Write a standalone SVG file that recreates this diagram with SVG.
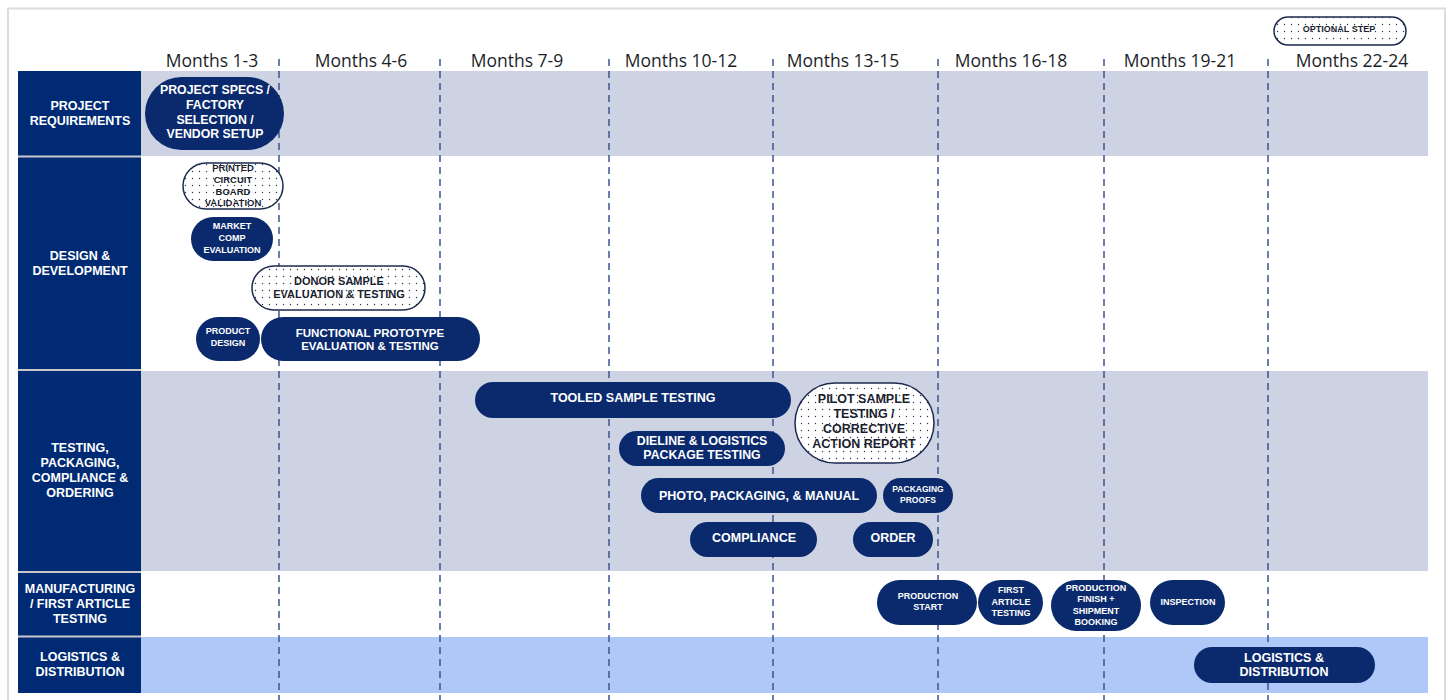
<svg xmlns="http://www.w3.org/2000/svg" width="1452" height="700" viewBox="0 0 1452 700">
<defs>
<pattern id="dots" width="7" height="7" patternUnits="userSpaceOnUse">
<rect width="7" height="7" fill="#ffffff"/>
<circle cx="3.5" cy="3.5" r="0.7" fill="#2a3550"/>
</pattern>
<style>
.hdr{font-family:"Open Sans","Liberation Sans",sans-serif;font-size:17.5px;fill:#1c1f2a;text-anchor:middle}
.rl{font-family:"Liberation Sans",Arial,sans-serif;font-weight:bold;font-size:12.5px;fill:#ffffff;text-anchor:middle;dominant-baseline:central}
.lab{fill:#002a73}
.n{fill:#0b2a6e}
.o{fill:url(#dots);stroke:#1b2a4e;stroke-width:1.5}
.t{font-family:"Liberation Sans",Arial,sans-serif;font-weight:bold;fill:#ffffff;text-anchor:middle;dominant-baseline:central}
.d{font-family:"Liberation Sans",Arial,sans-serif;font-weight:bold;fill:#1c1f30;text-anchor:middle;dominant-baseline:central}
.dash{stroke:#3d5490;stroke-width:1.5;stroke-dasharray:7 5;fill:none}
.sep{stroke:#c8c8c8;stroke-width:2}
</style>
</defs>
<rect x="0" y="0" width="1452" height="700" fill="#ffffff"/>
<rect x="8" y="8.5" width="1437" height="700" fill="none" stroke="#dcdcdc" stroke-width="2"/>

<g id="bands">
<rect x="141" y="71" width="1287" height="85" fill="#cdd3e2"/>
<rect x="141" y="371" width="1287" height="200" fill="#cdd3e2"/>
<rect x="141" y="637" width="1287" height="56" fill="#b0c8f8"/>
</g>

<g id="row-labels">
<rect class="lab" x="18" y="71" width="123" height="85"/>
<rect class="lab" x="18" y="157" width="123" height="212"/>
<rect class="lab" x="18" y="371" width="123" height="200"/>
<rect class="lab" x="18" y="573" width="123" height="63"/>
<rect class="lab" x="18" y="637" width="123" height="56"/>
<line class="sep" x1="18" y1="156.5" x2="141" y2="156.5"/>
<line class="sep" x1="18" y1="370" x2="141" y2="370"/>
<line class="sep" x1="18" y1="572" x2="141" y2="572"/>
<line class="sep" x1="18" y1="636.5" x2="141" y2="636.5"/>
<text class="rl" x="80" y="106">PROJECT</text>
<text class="rl" x="80" y="121">REQUIREMENTS</text>
<text class="rl" x="80" y="256">DESIGN &amp;</text>
<text class="rl" x="80" y="271">DEVELOPMENT</text>
<text class="rl" x="80" y="448">TESTING,</text>
<text class="rl" x="80" y="463">PACKAGING,</text>
<text class="rl" x="80" y="478">COMPLIANCE &amp;</text>
<text class="rl" x="80" y="493">ORDERING</text>
<text class="rl" x="80" y="589">MANUFACTURING</text>
<text class="rl" x="80" y="604">/ FIRST ARTICLE</text>
<text class="rl" x="80" y="619">TESTING</text>
<text class="rl" x="80" y="657">LOGISTICS &amp;</text>
<text class="rl" x="80" y="672">DISTRIBUTION</text>
</g>

<g id="headers">
<text class="hdr" x="212" y="67">Months 1-3</text>
<text class="hdr" x="361" y="67">Months 4-6</text>
<text class="hdr" x="517" y="67">Months 7-9</text>
<text class="hdr" x="681" y="67">Months 10-12</text>
<text class="hdr" x="843" y="67">Months 13-15</text>
<text class="hdr" x="1011" y="67">Months 16-18</text>
<text class="hdr" x="1180" y="67">Months 19-21</text>
<text class="hdr" x="1352" y="67">Months 22-24</text>
</g>

<g id="gridlines">
<line class="dash" x1="279" y1="59" x2="279" y2="700"/>
<line class="dash" x1="440" y1="59" x2="440" y2="700"/>
<line class="dash" x1="609" y1="59" x2="609" y2="700"/>
<line class="dash" x1="773" y1="59" x2="773" y2="700"/>
<line class="dash" x1="938" y1="59" x2="938" y2="700"/>
<line class="dash" x1="1104" y1="59" x2="1104" y2="700"/>
<line class="dash" x1="1268" y1="59" x2="1268" y2="700"/>
</g>

<g id="legend-optional">
<rect class="o" x="1274" y="17" width="132" height="28" rx="14"/>
<text class="d" x="1339" y="29" font-size="9">OPTIONAL STEP</text>
</g>

<g id="project-specs">
<rect class="n" x="145" y="77" width="139" height="73" rx="36.5"/>
<text class="t" font-size="12.3" x="215" y="90">PROJECT SPECS /</text>
<text class="t" font-size="12.3" x="215" y="105">FACTORY</text>
<text class="t" font-size="12.3" x="215" y="119.5">SELECTION /</text>
<text class="t" font-size="12.3" x="215" y="134">VENDOR SETUP</text>
</g>

<g id="pcb-validation">
<rect class="o" x="183" y="163" width="100" height="46" rx="23"/>
<text class="d" font-size="9.5" x="233" y="167.5">PRINTED</text>
<text class="d" font-size="9.5" x="233" y="179">CIRCUIT</text>
<text class="d" font-size="9.5" x="233" y="191">BOARD</text>
<text class="d" font-size="9.5" x="233" y="202">VALIDATION</text>
</g>

<g id="market-comp">
<rect class="n" x="191" y="217" width="82" height="44" rx="22"/>
<text class="t" font-size="9" x="232" y="226">MARKET</text>
<text class="t" font-size="9" x="232" y="238">COMP</text>
<text class="t" font-size="9" x="232" y="249.5">EVALUATION</text>
</g>

<g id="donor-sample">
<rect class="o" x="252" y="266" width="173" height="44" rx="22"/>
<text class="d" font-size="11" x="339" y="281">DONOR SAMPLE</text>
<text class="d" font-size="11" x="339" y="294">EVALUATION &amp; TESTING</text>
</g>

<g id="product-design">
<rect class="n" x="196" y="317" width="64" height="44" rx="22"/>
<text class="t" font-size="9" x="228" y="331">PRODUCT</text>
<text class="t" font-size="9" x="228" y="343">DESIGN</text>
</g>

<g id="functional-prototype">
<rect class="n" x="261" y="317" width="219" height="44" rx="22"/>
<text class="t" font-size="11.5" x="370" y="333">FUNCTIONAL PROTOTYPE</text>
<text class="t" font-size="11.5" x="370" y="346">EVALUATION &amp; TESTING</text>
</g>

<g id="tooled-sample">
<rect class="n" x="475" y="382" width="316" height="36" rx="18"/>
<text class="t" font-size="12.5" x="633" y="398">TOOLED SAMPLE TESTING</text>
</g>

<g id="pilot-sample">
<rect class="o" x="795" y="383" width="139" height="80" rx="40"/>
<text class="d" font-size="12.5" x="864" y="399">PILOT SAMPLE</text>
<text class="d" font-size="12.5" x="864" y="414">TESTING /</text>
<text class="d" font-size="12.5" x="864" y="429">CORRECTIVE</text>
<text class="d" font-size="12.5" x="864" y="444">ACTION REPORT</text>
</g>

<g id="dieline">
<rect class="n" x="619" y="431" width="166" height="35" rx="17.5"/>
<text class="t" font-size="12.3" x="702" y="440.5">DIELINE &amp; LOGISTICS</text>
<text class="t" font-size="12.3" x="702" y="455">PACKAGE TESTING</text>
</g>

<g id="photo-packaging">
<rect class="n" x="641" y="478" width="236" height="35" rx="17.5"/>
<text class="t" font-size="12.5" x="759" y="495.5">PHOTO, PACKAGING, &amp; MANUAL</text>
</g>

<g id="packaging-proofs">
<rect class="n" x="883" y="478" width="70" height="35" rx="17.5"/>
<text class="t" font-size="8.5" x="918" y="488.5">PACKAGING</text>
<text class="t" font-size="8.5" x="918" y="499.5">PROOFS</text>
</g>

<g id="compliance">
<rect class="n" x="690" y="522" width="127" height="35" rx="17.5"/>
<text class="t" font-size="12.5" x="754" y="538">COMPLIANCE</text>
</g>

<g id="order">
<rect class="n" x="853" y="522" width="80" height="35" rx="17.5"/>
<text class="t" font-size="12.5" x="893" y="538">ORDER</text>
</g>

<g id="production-start">
<rect class="n" x="877" y="580" width="100" height="45" rx="22.5"/>
<text class="t" font-size="9" x="928" y="595.5">PRODUCTION</text>
<text class="t" font-size="9" x="928" y="607">START</text>
</g>

<g id="first-article">
<rect class="n" x="978" y="580" width="65" height="45" rx="22.5"/>
<text class="t" font-size="9" x="1011" y="590">FIRST</text>
<text class="t" font-size="9" x="1011" y="601.5">ARTICLE</text>
<text class="t" font-size="9" x="1011" y="613">TESTING</text>
</g>

<g id="production-finish">
<rect class="n" x="1051" y="580" width="90" height="51" rx="25.5"/>
<text class="t" font-size="9" x="1096" y="587.5">PRODUCTION</text>
<text class="t" font-size="9" x="1096" y="599">FINISH +</text>
<text class="t" font-size="9" x="1096" y="610.5">SHIPMENT</text>
<text class="t" font-size="9" x="1096" y="622">BOOKING</text>
</g>

<g id="inspection">
<rect class="n" x="1150" y="580" width="75" height="45" rx="22.5"/>
<text class="t" font-size="9" x="1188" y="601.5">INSPECTION</text>
</g>

<g id="logistics">
<rect class="n" x="1194" y="647" width="181" height="36" rx="18"/>
<text class="t" font-size="12.5" x="1284" y="657.5">LOGISTICS &amp;</text>
<text class="t" font-size="12.5" x="1284" y="671.5">DISTRIBUTION</text>
</g>

<g id="connectors"></g>
</svg>
